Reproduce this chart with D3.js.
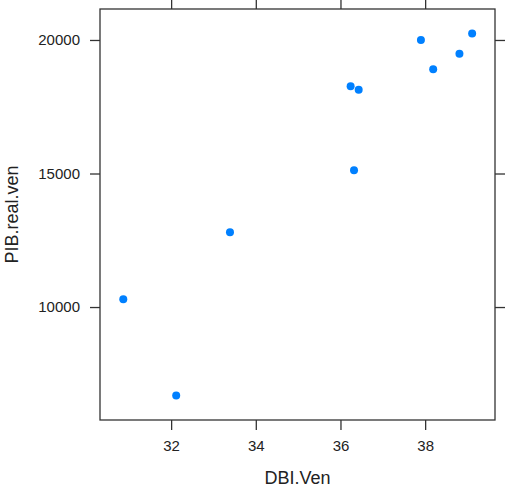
<!DOCTYPE html>
<html>
<head>
<meta charset="utf-8">
<script src="https://cdn.jsdelivr.net/npm/d3@7"></script>
<style>
  body { margin: 0; background: #fff; }
  svg { display: block; font-family: "Liberation Sans", Arial, sans-serif; }
</style>
</head>
<body>
<svg id="canvas"></svg>
<script>
let dbiVen = [30.87, 32.12, 33.39, 36.32, 36.24, 36.43, 37.90, 38.19, 38.81, 39.11]
let pibRealVen = [10290, 6690, 12800, 15120, 18265, 18140, 20000, 18900, 19480, 20240]

let xTicks = [32, 34, 36, 38]
let yTicks = [10000, 15000, 20000]

let width = 505
let height = 489
let panelLeft = 100
let panelRight = 495
let panelTop = 9
let panelBottom = 420
let tickLen = 10

let canvas = d3.select('#canvas')
canvas.attr('width', width)
      .attr('height', height)

let xScale = d3.scaleLinear()
               .domain([30.32, 39.65])
               .range([panelLeft, panelRight])

let yScale = d3.scaleLinear()
               .domain([5770, 21160])
               .range([panelBottom, panelTop])

let lineColor = '#333'

// ticks on all four sides, lattice style
let axes = [
    {axis: d3.axisBottom(xScale).tickValues(xTicks).tickFormat(d3.format('d')), tr: 'translate(0,' + panelBottom + ')'},
    {axis: d3.axisTop(xScale).tickValues(xTicks).tickFormat(''), tr: 'translate(0,' + panelTop + ')'},
    {axis: d3.axisLeft(yScale).tickValues(yTicks).tickFormat(d3.format('d')), tr: 'translate(' + panelLeft + ',0)'},
    {axis: d3.axisRight(yScale).tickValues(yTicks).tickFormat(''), tr: 'translate(' + panelRight + ',0)'}
]

axes.forEach((a) => {
    let g = canvas.append('g')
                  .attr('transform', a.tr)
                  .call(a.axis.tickSizeOuter(0).tickSizeInner(tickLen).tickPadding(10))
    g.select('.domain').remove()
    g.selectAll('line').attr('stroke', lineColor).attr('stroke-width', 1.3)
    g.selectAll('text')
     .attr('fill', '#222')
     .style('font-size', '15px')
     .style('font-family', '"Liberation Sans", Arial, sans-serif')
})

canvas.append('rect')
      .attr('x', panelLeft)
      .attr('y', panelTop)
      .attr('width', panelRight - panelLeft)
      .attr('height', panelBottom - panelTop)
      .attr('fill', 'none')
      .attr('stroke', lineColor)
      .attr('stroke-width', 1.3)

canvas.selectAll('circle')
      .data(dbiVen)
      .enter()
      .append('circle')
      .attr('cx', (d) => xScale(d))
      .attr('cy', (d, i) => yScale(pibRealVen[i]))
      .attr('r', 4)
      .attr('fill', '#0080ff')

canvas.append('text')
      .attr('x', (panelLeft + panelRight) / 2)
      .attr('y', 484)
      .attr('text-anchor', 'middle')
      .style('font-size', '18px')
      .attr('fill', '#222')
      .text('DBI.Ven')

canvas.append('text')
      .attr('transform', 'translate(18,' + (panelTop + panelBottom) / 2 + ') rotate(-90)')
      .attr('text-anchor', 'middle')
      .style('font-size', '18px')
      .attr('fill', '#222')
      .text('PIB.real.ven')
</script>
</body>
</html>
